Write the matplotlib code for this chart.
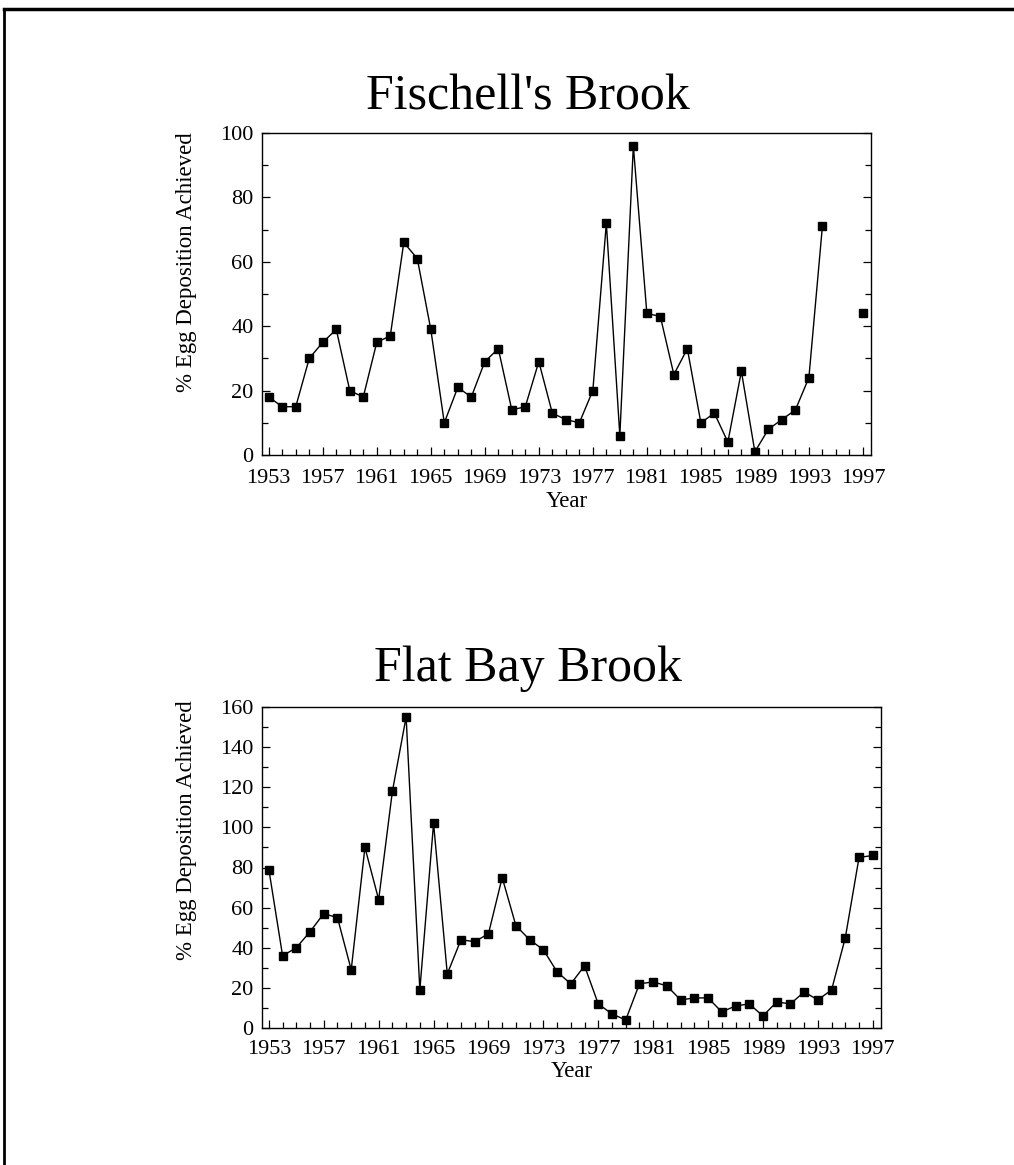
import matplotlib.pyplot as plt
from matplotlib.lines import Line2D
from matplotlib.ticker import MultipleLocator
import numpy as np

plt.rcParams['font.family'] = ['Liberation Serif', 'DejaVu Serif']

# --- Data ---
years = list(range(1953, 1998))

# Fischell's Brook (no values for 1995, 1996)
fischell = [18, 15, 15, 30, 35, 39, 20, 18, 35, 37,
            66, 61, 39, 10, 21, 18, 29, 33, 14, 15,
            29, 13, 11, 10, 20, 72, 6, 96, 44, 43,
            25, 33, 10, 13, 4, 26, 1, 8, 11, 14,
            24, 71, np.nan, np.nan, 44]

# Flat Bay Brook
flatbay = [79, 36, 40, 48, 57, 55, 29, 90, 64, 118,
           155, 19, 102, 27, 44, 43, 47, 75, 51, 44,
           39, 28, 22, 31, 12, 7, 4, 22, 23, 21,
           14, 15, 15, 8, 11, 12, 6, 13, 12, 18,
           14, 19, 45, 85, 86]

year_ticks = list(range(1953, 1998, 4))

W, H = 1014, 1165
fig = plt.figure(figsize=(W / 100, H / 100), dpi=100)


def px_axes(left, top, right, bottom):
    return fig.add_axes([left / W, 1 - bottom / H, (right - left) / W, (bottom - top) / H])


def style(ax, ymax, ystep, label_y, label_x, xpad, xlabelpad):
    ax.set_xlim(1952.5, 1997.6)
    ax.set_ylim(0, ymax)
    ax.set_xticks(year_ticks)
    ax.xaxis.set_minor_locator(MultipleLocator(1))
    ax.yaxis.set_major_locator(MultipleLocator(ystep))
    ax.yaxis.set_minor_locator(MultipleLocator(ystep / 2))
    ax.tick_params(which='both', direction='in', labelsize=16, right=True, top=False,
                   width=0.9, colors='black')
    ax.tick_params(which='major', length=6)
    ax.tick_params(which='minor', length=4)
    ax.tick_params(axis='x', which='major', pad=xpad)
    ax.tick_params(axis='y', which='major', pad=6)
    for s in ax.spines.values():
        s.set_linewidth(1.0)
    ax.set_xlabel("Year", fontsize=16.5, labelpad=xlabelpad)
    ax.set_ylabel("% Egg Deposition Achieved", fontsize=16.5)
    ax.yaxis.set_label_coords(label_x, label_y)


# --- Top: Fischell's Brook ---
ax1 = px_axes(262, 133, 871, 455)
ax1.plot(years, fischell, color='black', lw=1.0, marker='s', ms=6, mfc='black', mec='black')
style(ax1, 100, 20, 0.60, -0.107, 10, 2)
fig.text(528 / W, 1 - 110 / H, "Fischell's Brook", fontsize=36, ha='center', va='baseline')

# --- Bottom: Flat Bay Brook ---
ax2 = px_axes(262, 707, 881, 1028)
ax2.plot(years, flatbay, color='black', lw=1.0, marker='s', ms=6, mfc='black', mec='black')
style(ax2, 160, 20, 0.615, -0.105, 9, 1)
fig.text(528 / W, 1 - 681 / H, "Flat Bay Brook", fontsize=36, ha='center', va='baseline')

# page frame (top and left edges)
fig.add_artist(Line2D([4 / W, 1], [1 - 9 / H, 1 - 9 / H], transform=fig.transFigure,
                      color='black', lw=2.5))
fig.add_artist(Line2D([4 / W, 4 / W], [0, 1 - 9 / H], transform=fig.transFigure,
                      color='black', lw=2))

fig.savefig("out.png", dpi=100, facecolor='white')
